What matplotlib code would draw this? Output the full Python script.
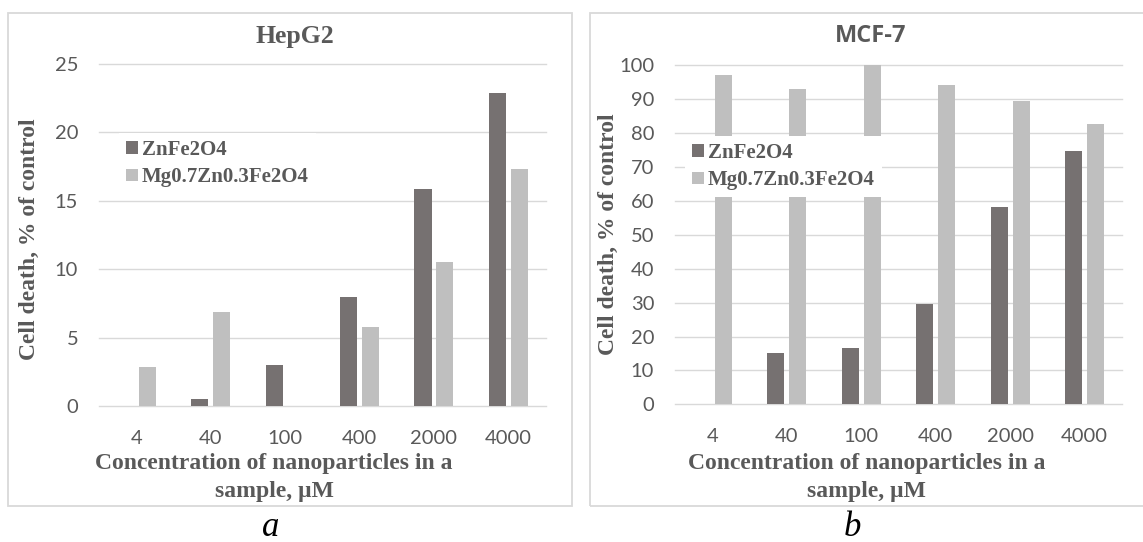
import matplotlib
matplotlib.use("Agg")
import matplotlib.pyplot as plt
import numpy as np
from matplotlib.patches import Rectangle

# data
concentrations = ["4", "40", "100", "400", "2000", "4000"]
series_names = ["ZnFe2O4", "Mg0.7Zn0.3Fe2O4"]

hepg2_zn = [0, 0.5, 3.0, 8.0, 15.9, 22.85]
hepg2_mg = [2.9, 6.9, 0, 5.75, 10.55, 17.3]

mcf7_zn = [0, 15.1, 16.7, 29.5, 58.3, 74.6]
mcf7_mg = [97.1, 93.0, 100.0, 94.2, 89.5, 82.7]

W, H = 1143, 542
DARK = "#767171"
LIGHT = "#bfbfbf"
TEXT = "#595959"
GRID = "#d9d9d9"
SERIF = "Liberation Serif"
SANS = "Lato"


def fx(x):
    return x / W


def fy(y):
    return 1 - y / H


fig = plt.figure(figsize=(W / 100, H / 100), dpi=100)
fig.patch.set_facecolor("white")

# panel frames
for x0, x1 in [(8, 572), (590, 1160)]:
    fig.add_artist(Rectangle((fx(x0), fy(506)), fx(x1) - fx(x0), fy(13) - fy(506),
                             transform=fig.transFigure, fill=False,
                             edgecolor=GRID, linewidth=1.3))


def make_panel(rect, zn, mg, ymax, ystep, title, title_font, title_size, title_xy,
               ylabel_xy, xlabel_x, legend_xy, panel_letter, letter_x):
    l, t, r, b = rect
    ax = fig.add_axes([fx(l), fy(b), fx(r) - fx(l), fy(t) - fy(b)])
    x = np.arange(len(concentrations))
    bw = 0.23
    off = 0.146
    ax.bar(x - off, zn, bw, color=DARK, label=series_names[0])
    ax.bar(x + off, mg, bw, color=LIGHT, label=series_names[1])
    ax.set_xlim(-0.5, len(concentrations) - 0.5)
    ax.set_ylim(0, ymax)
    ax.set_yticks(np.arange(0, ymax + 0.1, ystep))
    ax.set_xticks(x)
    ax.set_xticklabels(concentrations)
    ax.set_axisbelow(True)
    ax.yaxis.grid(True, color=GRID, linewidth=1.0)
    for ln in ax.get_ygridlines():
        ln.set_clip_on(False)
    for s in ax.spines.values():
        s.set_visible(False)
    ax.tick_params(axis="both", length=0, labelsize=14.5, labelcolor=TEXT)
    ax.tick_params(axis="y", pad=15)
    ax.tick_params(axis="x", pad=17)
    for lab in ax.get_xticklabels() + ax.get_yticklabels():
        lab.set_fontfamily(SANS)

    fig.text(fx(title_xy[0]), fy(title_xy[1]), title, ha="center", va="center",
             fontsize=title_size, fontweight="bold", color=TEXT, family=title_font)
    fig.text(fx(ylabel_xy[0]), fy(ylabel_xy[1]), "Cell death, % of control",
             rotation=90, ha="center", va="center", fontsize=17,
             fontweight="bold", color=TEXT, family=SERIF)
    fig.text(fx(xlabel_x), fy(463), "Concentration of nanoparticles in a",
             ha="center", va="center", fontsize=17, fontweight="bold",
             color=TEXT, family=SERIF)
    fig.text(fx(xlabel_x), fy(491), "sample, \u00b5M",
             ha="center", va="center", fontsize=17, fontweight="bold",
             color=TEXT, family=SERIF)

    leg = ax.legend(loc="center left", bbox_to_anchor=(fx(legend_xy[0]), fy(legend_xy[1])),
                    bbox_transform=fig.transFigure, frameon=True, fancybox=False,
                    borderpad=0.35, borderaxespad=0, handlelength=0.55, handleheight=0.55,
                    handletextpad=0.2, labelspacing=0.35,
                    prop={"family": SERIF, "weight": "bold", "size": 15})
    leg.get_frame().set_facecolor("white")
    leg.get_frame().set_edgecolor("none")
    leg.get_frame().set_alpha(1)
    for txt in leg.get_texts():
        txt.set_color(TEXT)

    fig.text(fx(letter_x), fy(536), panel_letter, ha="center", va="baseline",
             fontsize=25, style="italic", color="black", family=SERIF)
    return ax


make_panel((99, 64, 545.5, 406.2), hepg2_zn, hepg2_mg, 25, 5,
           "HepG2", SERIF, 18.5, (295, 36), (29, 239), 274, (119, 163.5), "a", 271)
make_panel((675, 65, 1122, 404.4), mcf7_zn, mcf7_mg, 100, 10,
           "MCF-7", "Open Sans", 17, (871, 36), (608, 234), 866.5, (685, 166.5), "b", 852)

fig.savefig("out.png", dpi=100)
